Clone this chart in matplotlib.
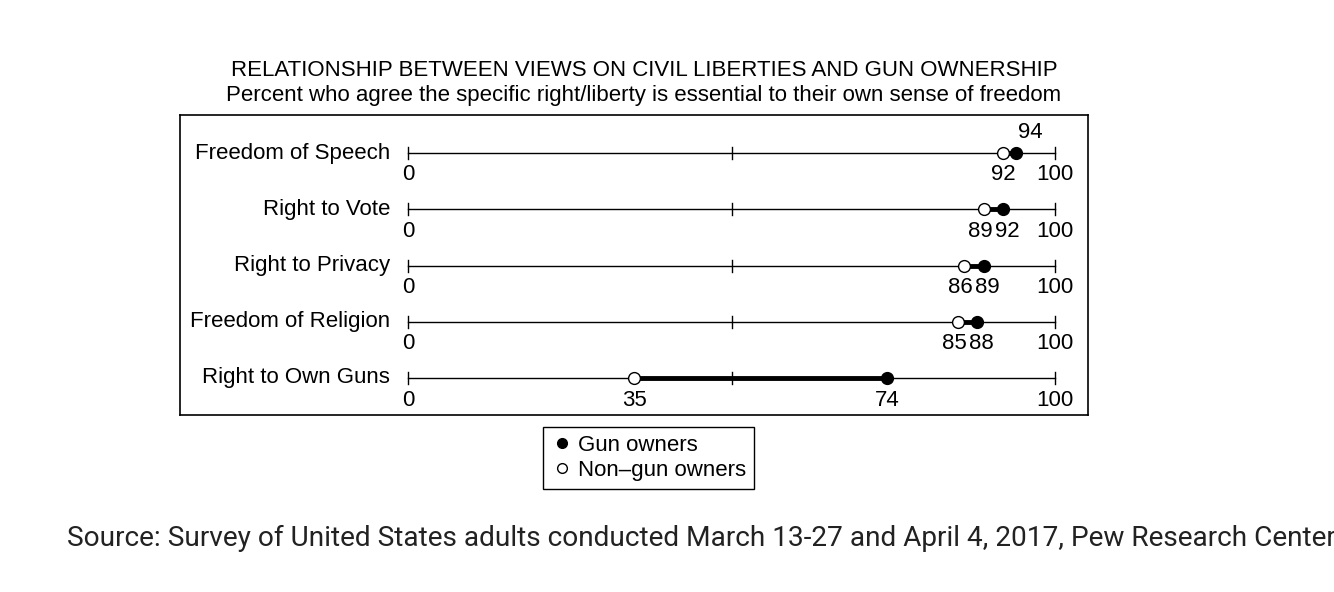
import matplotlib
matplotlib.use('Agg')
import matplotlib.pyplot as plt
from matplotlib.lines import Line2D

plt.rcParams['font.family'] = ['Liberation Sans', 'DejaVu Sans']

# data
rights = ['Freedom of Speech', 'Right to Vote', 'Right to Privacy',
          'Freedom of Religion', 'Right to Own Guns']
gun_owners = [94, 92, 89, 88, 74]
non_gun_owners = [92, 89, 86, 85, 35]

W, H = 1334, 592
fig = plt.figure(figsize=(W / 100, H / 100), dpi=100)

# box around the dumbbells, in pixels
bx0, bx1, by0, by1 = 180, 1088, 115, 415
ax = fig.add_axes([bx0 / W, 1 - by1 / H, (bx1 - bx0) / W, (by1 - by0) / H])
px = (1055 - 408) / 100.0
ax.set_xlim(-(408 - bx0) / px, (bx1 - 408) / px)
row = 56.25
ax.set_ylim(len(rights) - 1 + (by1 - 378) / row, -(153 - by0) / row)
ax.set_xticks([])
ax.set_yticks([])
for s in ax.spines.values():
    s.set_linewidth(1.2)

fs = 16
lab_dy = 22 / row
min_gap = 27 / px  # label centres at least this far apart
for i, name in enumerate(rights):
    g, n = gun_owners[i], non_gun_owners[i]
    ax.plot([0, 100], [i, i], color='black', lw=1.0, zorder=1)
    for t in (0, 50, 100):
        ax.plot([t, t], [i - 6 / row, i + 6 / row], color='black', lw=1.0, zorder=1)
    ax.plot([n, g], [i, i], color='black', lw=3.5, zorder=2)
    ax.plot(n, i, 'o', ms=8.5, mfc='white', mec='black', mew=1.0, zorder=3)
    ax.plot(g, i, 'o', ms=8.5, mfc='black', mec='black', zorder=3)
    ax.text(-2.8, i, name, ha='right', va='center', fontsize=fs)
    ax.text(0, i + lab_dy, '0', ha='center', va='center', fontsize=fs)
    ax.text(100, i + lab_dy, '100', ha='center', va='center', fontsize=fs)
    if g - n < 3:
        # too close, put the gun owner label above
        ax.text(n, i + lab_dy, str(n), ha='center', va='center', fontsize=fs)
        ax.text(g + 2.2, i - 20 / row, str(g), ha='center', va='center', fontsize=fs)
    else:
        push = max(0, (min_gap - (g - n)) / 2)
        ax.text(n - push, i + lab_dy, str(n), ha='center', va='center', fontsize=fs)
        ax.text(g + push, i + lab_dy, str(g), ha='center', va='center', fontsize=fs)

fig.text(644 / W, 1 - 70 / H,
         'RELATIONSHIP BETWEEN VIEWS ON CIVIL LIBERTIES AND GUN OWNERSHIP',
         ha='center', va='center', fontsize=fs)
fig.text(644 / W, 1 - 95 / H,
         'Percent who agree the specific right/liberty is essential to their own sense of freedom',
         ha='center', va='center', fontsize=fs)

handles = [Line2D([], [], ls='none', marker='o', ms=7, mfc='black', mec='black'),
           Line2D([], [], ls='none', marker='o', ms=7, mfc='white', mec='black')]
leg = fig.legend(handles, ['Gun owners', 'Non\u2013gun owners'],
                 loc='upper left', bbox_to_anchor=(543 / W, 1 - 427 / H),
                 fontsize=fs, frameon=True, fancybox=False, edgecolor='black',
                 framealpha=1, handlelength=1.0, handletextpad=0.22,
                 borderpad=0.35, labelspacing=0.2, borderaxespad=0)
leg.get_frame().set_linewidth(1.0)

fig.text(67 / W, 1 - 538 / H,
         'Source: Survey of United States adults conducted March 13-27 and April 4, 2017, Pew Research Center',
         ha='left', va='center', fontsize=20.2, family='Roboto', color='#222222')

fig.savefig('out.png', dpi=100)
